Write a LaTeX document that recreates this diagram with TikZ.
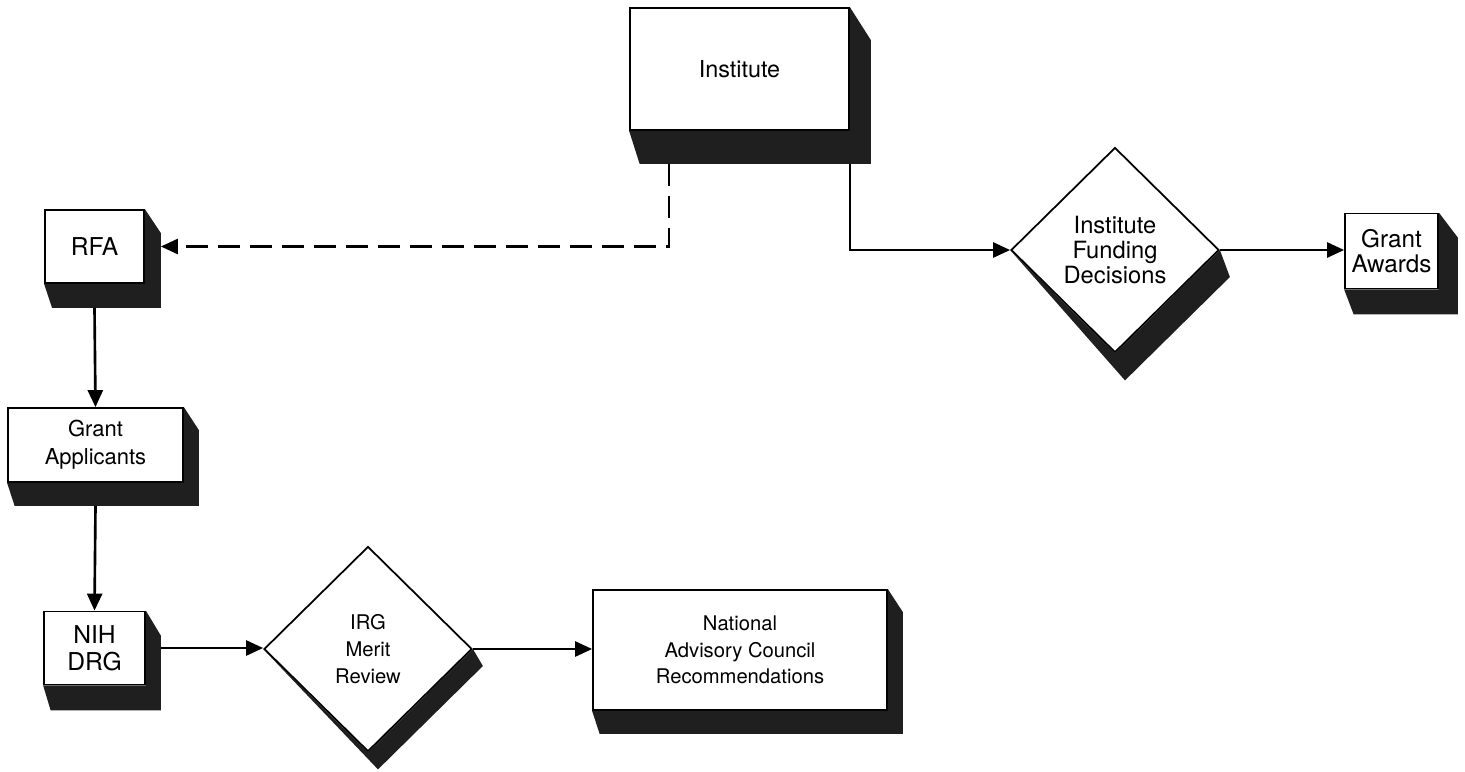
\documentclass[tikz,border=0pt]{standalone}
\usepackage{fontspec}
\setmainfont{TeX Gyre Heros}
\usetikzlibrary{arrows.meta,shapes.geometric}
\newcommand{\boxshade}[3]{\fill[black!88] (#1.south west) -- ([shift={(#2/2,#3)}]#1.south west) -- ([shift={(#2,#3)}]#1.south east) -- ([shift={(#2,#3)}]#1.north east) -- (#1.north east) -- (#1.south east) -- cycle;}
\newcommand{\diamshade}[3]{\fill[black!88] (#1.west) -- ([shift={(#2,#3)}]#1.south) -- ([shift={(#2,#3)}]#1.east) -- (#1.east) -- (#1.south) -- cycle;}
\begin{document}
\begin{tikzpicture}[x=0.2mm,y=-0.2mm,
  every node/.style={font=\fontsize{12.5}{16}\selectfont,align=center},
  box/.style={draw,line width=1pt,fill=white,rectangle,inner sep=0pt},
  decision/.style={draw,line width=1pt,fill=white,diamond,inner sep=0pt,minimum width=41.6mm,minimum height=41mm},
  flow/.style={line width=1.5pt,-{Triangle[length=3.4mm,width=3mm]}}]
\useasboundingbox (0,0) rectangle (1465,771);
\node[box,minimum width=43.8mm,minimum height=24.4mm,font=\fontsize{13.3}{16}\selectfont] (inst) at (739.5,69) {Institute};
\node[box,minimum width=19.8mm,minimum height=14.6mm,font=\fontsize{14}{16}\selectfont] (rfa) at (94.5,246.5) {RFA};
\node[box,minimum width=35mm,minimum height=14.8mm] (appl) at (95.5,445) {Grant\\Applicants};
\node[box,minimum width=20.2mm,minimum height=14.6mm,font=\fontsize{14}{15.3}\selectfont] (nih) at (94.5,648) {NIH\\DRG};
\node[decision,font=\fontsize{11.5}{15.3}\selectfont] (irg) at (368,649) {IRG\\Merit\\Review};
\node[box,minimum width=58.8mm,minimum height=24mm,font=\fontsize{11.5}{15}\selectfont] (natl) at (740,650) {National\\Advisory Council\\Recommendations};
\node[decision,font=\fontsize{13.5}{14}\selectfont] (fund) at (1115,250) {Institute\\Funding\\Decisions};
\node[box,minimum width=18.6mm,minimum height=15mm,font=\fontsize{13.8}{14.5}\selectfont] (award) at (1391.5,251) {Grant\\Awards};
\boxshade{inst}{21}{33}
\boxshade{rfa}{16}{24}
\boxshade{appl}{15}{23}
\boxshade{nih}{15}{25}
\boxshade{natl}{15}{23}
\boxshade{award}{19}{25}
\diamshade{irg}{10}{17}
\diamshade{fund}{10}{27}
\coordinate (instdash) at ([shift={(40,33)}]inst.south west);
\coordinate (instsolid) at ([shift={(0,33)}]inst.south east);
\draw[flow,dash pattern=on 4.4mm off 2mm] (instdash) |- ([xshift=3.2mm]rfa.east);
\draw[flow] (instsolid) |- (fund.west);
\draw[flow] (fund.east) -- (fund.east -| award.west);
\draw[flow] ([yshift=-4.8mm]rfa.south) -- (appl.north);
\draw[flow] ([yshift=-4.6mm]appl.south) -- (nih.north);
\draw[flow] ([xshift=3mm]nih.east) -- (nih.east -| irg.west);
\draw[flow] (irg.east) -- (irg.east -| natl.west);
\end{tikzpicture}
\end{document}
